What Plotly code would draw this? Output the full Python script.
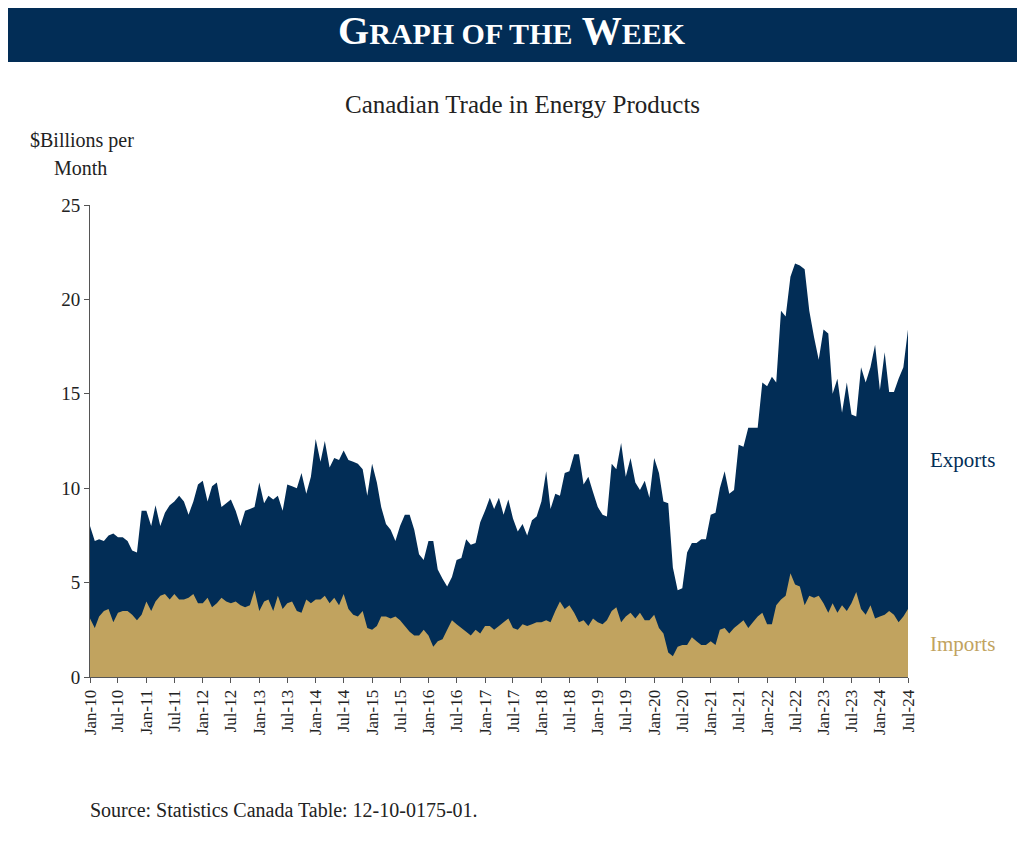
import pandas as pd
import plotly.graph_objects as go

months = pd.date_range("2010-01-01", "2024-07-01", freq="MS")

exports = [
    8.0, 7.2, 7.3, 7.2, 7.5, 7.6, 7.4, 7.4, 7.2, 6.7, 6.6, 8.8,
    8.8, 8.0, 9.1, 8.0, 8.7, 9.1, 9.3, 9.6, 9.3, 8.6, 9.3, 10.2,
    10.4, 9.3, 10.1, 10.3, 9.0, 9.2, 9.4, 8.8, 8.0, 8.8, 8.9, 9.0,
    10.3, 9.2, 9.6, 9.4, 9.6, 8.8, 10.2, 10.1, 10.0, 10.8, 9.7, 10.6,
    12.6, 11.4, 12.5, 11.1, 11.6, 11.5, 12.0, 11.5, 11.4, 11.3, 11.0, 9.6,
    11.3, 10.3, 9.0, 8.1, 7.8, 7.2, 8.0, 8.6, 8.6, 7.8, 6.5, 6.2,
    7.2, 7.2, 5.7, 5.2, 4.8, 5.3, 6.2, 6.3, 7.3, 7.0, 7.1, 8.2,
    8.8, 9.5, 8.9, 9.5, 8.6, 9.4, 8.4, 7.7, 8.1, 7.5, 8.3, 8.5,
    9.3, 10.9, 8.9, 9.7, 9.6, 10.8, 10.9, 11.8, 11.8, 10.2, 10.6, 9.8,
    9.0, 8.6, 8.5, 11.3, 11.0, 12.4, 10.6, 11.6, 10.3, 9.9, 10.4, 9.5,
    11.6, 10.8, 9.3, 9.2, 5.8, 4.6, 4.7, 6.6, 7.1, 7.1, 7.3, 7.3,
    8.6, 8.7, 10.0, 10.9, 9.7, 9.9, 12.3, 12.2, 13.2, 13.2, 13.2, 15.6,
    15.4, 15.9, 15.6, 19.4, 19.1, 21.2, 21.9, 21.8, 21.6, 19.4, 18.0, 16.8,
    18.4, 18.2, 15.0, 15.8, 14.0, 15.6, 13.9, 13.8, 16.4, 15.6, 16.4, 17.6,
    15.2, 17.2, 15.1, 15.1, 15.8, 16.4, 18.4,
]

imports = [
    3.1, 2.6, 3.2, 3.5, 3.6, 2.9, 3.4, 3.5, 3.5, 3.3, 3.0, 3.3,
    4.0, 3.5, 4.0, 4.3, 4.4, 4.1, 4.4, 4.1, 4.1, 4.2, 4.4, 3.9,
    3.9, 4.2, 3.7, 3.9, 4.2, 4.0, 3.9, 4.0, 3.8, 3.7, 3.8, 4.6,
    3.5, 4.0, 4.1, 3.5, 4.3, 3.6, 3.9, 4.0, 3.5, 3.4, 4.1, 3.9,
    4.1, 4.1, 4.3, 3.9, 4.2, 3.8, 4.4, 3.6, 3.3, 3.2, 3.5, 2.6,
    2.5, 2.7, 3.2, 3.2, 3.1, 3.2, 3.0, 2.7, 2.4, 2.2, 2.2, 2.5,
    2.2, 1.6, 1.9, 2.0, 2.5, 3.0, 2.8, 2.6, 2.4, 2.2, 2.5, 2.3,
    2.7, 2.7, 2.5, 2.7, 2.9, 3.1, 2.6, 2.5, 2.8, 2.7, 2.8, 2.9,
    2.9, 3.0, 2.9, 3.5, 4.0, 3.6, 3.8, 3.4, 2.9, 3.0, 2.7, 3.1,
    2.9, 2.8, 3.0, 3.5, 3.7, 2.9, 3.2, 3.4, 3.1, 3.4, 3.0, 3.0,
    3.3, 2.6, 2.3, 1.3, 1.1, 1.6, 1.7, 1.7, 2.1, 1.9, 1.7, 1.7,
    1.9, 1.7, 2.5, 2.6, 2.3, 2.6, 2.8, 3.0, 2.6, 2.9, 3.2, 3.4,
    2.8, 2.8, 3.8, 4.1, 4.3, 5.5, 4.9, 4.8, 3.8, 4.3, 4.2, 4.3,
    3.9, 3.4, 3.9, 3.4, 3.8, 3.5, 3.9, 4.5, 3.6, 3.3, 3.8, 3.1,
    3.2, 3.3, 3.5, 3.3, 2.9, 3.2, 3.6,
]

tick_dates = months[::6]
tick_labels = [d.strftime("%b-%y") for d in tick_dates]

NAVY = "#022d56"
GOLD = "#c1a35f"
SERIF = "Liberation Serif, DejaVu Serif, serif"

# the page draws the figure 8px in from the window corner
OFF = 8
W, H = 1025, 860
L, R, T, B = 90 - OFF, W - 908 + OFF, 205 - OFF, H - 677 + OFF
PW, PH = W - L - R, H - T - B


def px(x):
    return (x - OFF - L) / PW


def py(y):
    return (H - B - (y - OFF)) / PH


fig = go.Figure()
fig.add_trace(go.Scatter(x=months, y=exports, fill="tozeroy", mode="none",
                         fillcolor=NAVY, name="Exports"))
fig.add_trace(go.Scatter(x=months, y=imports, fill="tozeroy", mode="none",
                         fillcolor=GOLD, name="Imports"))

fig.update_layout(
    width=W, height=H,
    paper_bgcolor="white", plot_bgcolor="white",
    margin=dict(l=L, r=R, t=T, b=B),
    showlegend=False,
    font=dict(family=SERIF, size=18, color="#222"),
    xaxis=dict(range=[months[0], months[-1]], tickvals=tick_dates, ticktext=tick_labels,
               tickangle=-90, ticks="outside", ticklen=5, tickcolor="#555",
               showline=True, linecolor="#555", showgrid=False, zeroline=False,
               tickfont=dict(size=17, color="#222")),
    yaxis=dict(range=[0, 25], dtick=5, ticks="outside", ticklen=5, tickcolor="#555",
               showline=True, linecolor="#555", showgrid=False, zeroline=False,
               tickfont=dict(size=19, color="#222")),
    shapes=[dict(type="rect", xref="paper", yref="paper",
                 x0=px(0), x1=px(W + 20), y0=py(62), y1=py(-20),
                 fillcolor=NAVY, line_width=0)],
)


def note(x, y, text, size, color="#222", xanchor="center"):
    fig.add_annotation(xref="paper", yref="paper", x=px(x), y=py(y), text=text,
                       xanchor=xanchor, yanchor="middle", showarrow=False,
                       font=dict(family=SERIF, size=size, color=color))


note(512, 30, "<b>G<span style='font-size:30px'>RAPH OF THE</span> W<span style='font-size:30px'>EEK</span></b>",
     40, "white")
note(522, 104, "Canadian Trade in Energy Products", 25)
note(28, 140, "$Billions per", 20, xanchor="left")
note(52, 168, "Month", 20, xanchor="left")
note(928, 460, "Exports", 21, NAVY, "left")
note(928, 644, "Imports", 21, GOLD, "left")
note(88, 810, "Source: Statistics Canada Table: 12-10-0175-01.", 20, xanchor="left")

fig.write_html("out.html")
